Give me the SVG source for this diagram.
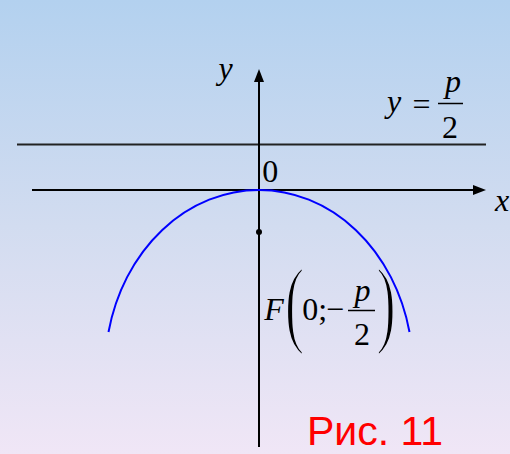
<svg xmlns="http://www.w3.org/2000/svg" width="510" height="454" viewBox="0 0 510 454">
  <defs>
    <linearGradient id="bg" gradientUnits="userSpaceOnUse" x1="0" y1="0" x2="0" y2="454">
      <stop offset="0" stop-color="#b3d1ef"/>
      <stop offset="0.5" stop-color="#d2dcf0"/>
      <stop offset="1" stop-color="#f0e6f6"/>
    </linearGradient>
    <marker id="arrow" viewBox="0 0 13 10" refX="0" refY="5" markerWidth="13" markerHeight="10" markerUnits="userSpaceOnUse" orient="auto">
      <path d="M0,0 L13,5 L0,10 z" fill="#000"/>
    </marker>
    <style>
      .axis { stroke: #000; stroke-width: 2; fill: none; }
      .line { stroke: #222; stroke-width: 2; fill: none; }
      .curve { stroke: #0000ff; stroke-width: 2; fill: none; }
      .bar { stroke: #000; stroke-width: 1.5; }
      .m { font-family: "Liberation Serif", "DejaVu Serif", serif; font-size: 32px; fill: #000; }
      .i { font-style: italic; }
      .paren { font-size: 98px; stroke: url(#bg); stroke-width: 2.5px; }
      .cap { font-family: "Liberation Sans", Arial, sans-serif; font-size: 41px; fill: #ff0000; }
    </style>
  </defs>
  <rect x="0" y="0" width="510" height="454" fill="url(#bg)"/>

  <g id="connectors">
    <line id="directrix" class="line" x1="17" y1="144.5" x2="486" y2="144.5"/>
    <line id="x-axis" class="axis" x1="32" y1="190" x2="473" y2="190" marker-end="url(#arrow)"/>
    <line id="y-axis" class="axis" x1="259" y1="447" x2="259" y2="82" marker-end="url(#arrow)"/>
    <path id="parabola" class="curve" d="M108.5,332 A154,180 0 0 1 259,190 A154,180 0 0 1 409.5,332"/>
  </g>

  <g id="focus">
    <circle cx="259" cy="232" r="3" fill="#000"/>
  </g>

  <g id="label-y">
    <text class="m i" x="218.5" y="78.5">y</text>
  </g>
  <g id="label-x">
    <text class="m i" x="495" y="211">x</text>
  </g>
  <g id="label-origin">
    <text class="m" x="262.2" y="181.7">0</text>
  </g>

  <g id="label-directrix">
    <text class="m i" x="387" y="111.5">y</text>
    <text class="m" x="412.5" y="115">=</text>
    <text class="m i" x="445" y="92">p</text>
    <line class="bar" x1="438" y1="103.5" x2="463" y2="103.5"/>
    <text class="m" x="442" y="137.7">2</text>
  </g>

  <g id="label-focus">
    <text class="m i" x="264.3" y="320">F</text>
    <text class="m paren" transform="scale(0.6,1)" x="474.5" y="335.5">(</text>
    <text class="m" x="302.3" y="320">0;</text>
    <text class="m" x="326" y="320">−</text>
    <text class="m i" x="354.5" y="300.8">p</text>
    <line class="bar" x1="348" y1="310.5" x2="375" y2="310.5"/>
    <text class="m" x="354" y="345">2</text>
    <text class="m paren" transform="scale(0.6,1)" x="627" y="335.5">)</text>
  </g>

  <g id="caption">
    <text class="cap" x="307" y="445">Рис. 11</text>
  </g>
</svg>
